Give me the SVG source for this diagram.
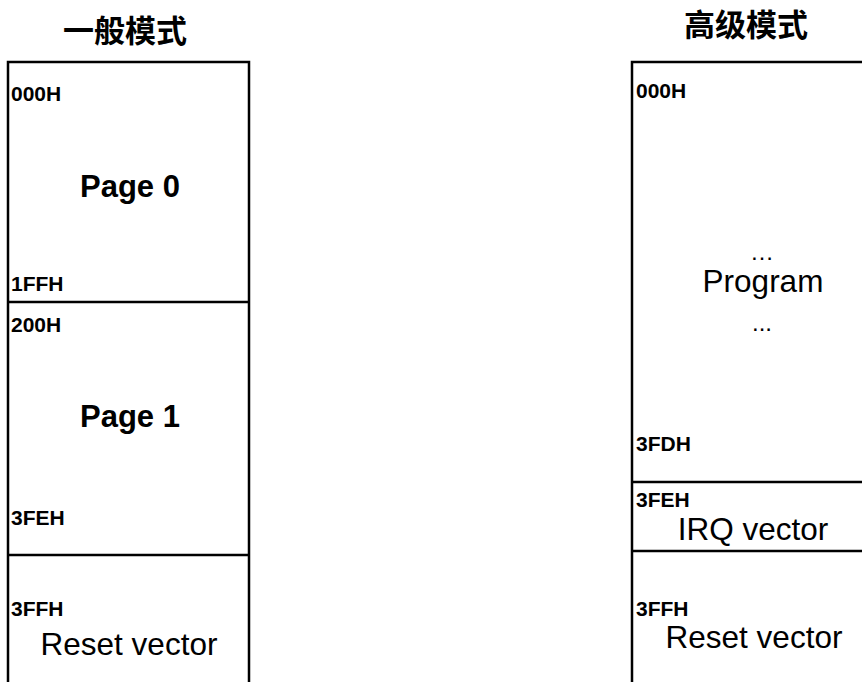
<svg xmlns="http://www.w3.org/2000/svg" width="862" height="682" viewBox="0 0 862 682">
<style>
.t{font-family:"Liberation Sans","Noto Sans CJK SC",sans-serif;font-weight:bold;font-size:31px;fill:#000}
.a{font-family:"Liberation Sans",Arial,sans-serif;font-weight:bold;font-size:21px;fill:#000}
.p{font-family:"Liberation Sans",Arial,sans-serif;font-weight:bold;font-size:31px;fill:#000}
.n{font-family:"Liberation Sans",Arial,sans-serif;font-size:31.5px;fill:#000}
.d{font-family:"Liberation Sans",Arial,sans-serif;font-size:24px;fill:#000}
.l{stroke:#000;stroke-width:2.5;fill:none}
</style>
<rect width="862" height="682" fill="#fff"/>
<g id="left-map">
<text class="t" x="125" y="42" text-anchor="middle">一般模式</text>
<path class="l" d="M8,682 V62 H249 V682"/>
<line class="l" x1="8" y1="302" x2="249" y2="302"/>
<line class="l" x1="8" y1="555" x2="249" y2="555"/>
<g id="page0">
<text class="a" x="11" y="101">000H</text>
<text class="p" x="130" y="197" text-anchor="middle">Page 0</text>
<text class="a" x="11" y="291">1FFH</text>
</g>
<g id="page1">
<text class="a" x="11" y="332">200H</text>
<text class="p" x="130" y="427" text-anchor="middle">Page 1</text>
<text class="a" x="11" y="525">3FEH</text>
</g>
<g id="reset-left">
<text class="a" x="11" y="616">3FFH</text>
<text class="n" x="129" y="655" text-anchor="middle">Reset vector</text>
</g>
</g>
<g id="right-map">
<text class="t" x="746" y="36" text-anchor="middle">高级模式</text>
<path class="l" d="M632,682 V62 H862"/>
<line class="l" x1="632" y1="482" x2="862" y2="482"/>
<line class="l" x1="632" y1="551" x2="862" y2="551"/>
<g id="program">
<text class="a" x="636" y="98">000H</text>
<text class="d" x="762" y="260" text-anchor="middle">…</text>
<text class="n" x="763" y="292" text-anchor="middle">Program</text>
<text class="d" x="762" y="331" text-anchor="middle">...</text>
<text class="a" x="636" y="451">3FDH</text>
</g>
<g id="irq">
<text class="a" x="636" y="507">3FEH</text>
<text class="n" x="753" y="540" text-anchor="middle">IRQ vector</text>
</g>
<g id="reset-right">
<text class="a" x="636" y="616">3FFH</text>
<text class="n" x="754" y="648" text-anchor="middle">Reset vector</text>
</g>
</g>
</svg>
